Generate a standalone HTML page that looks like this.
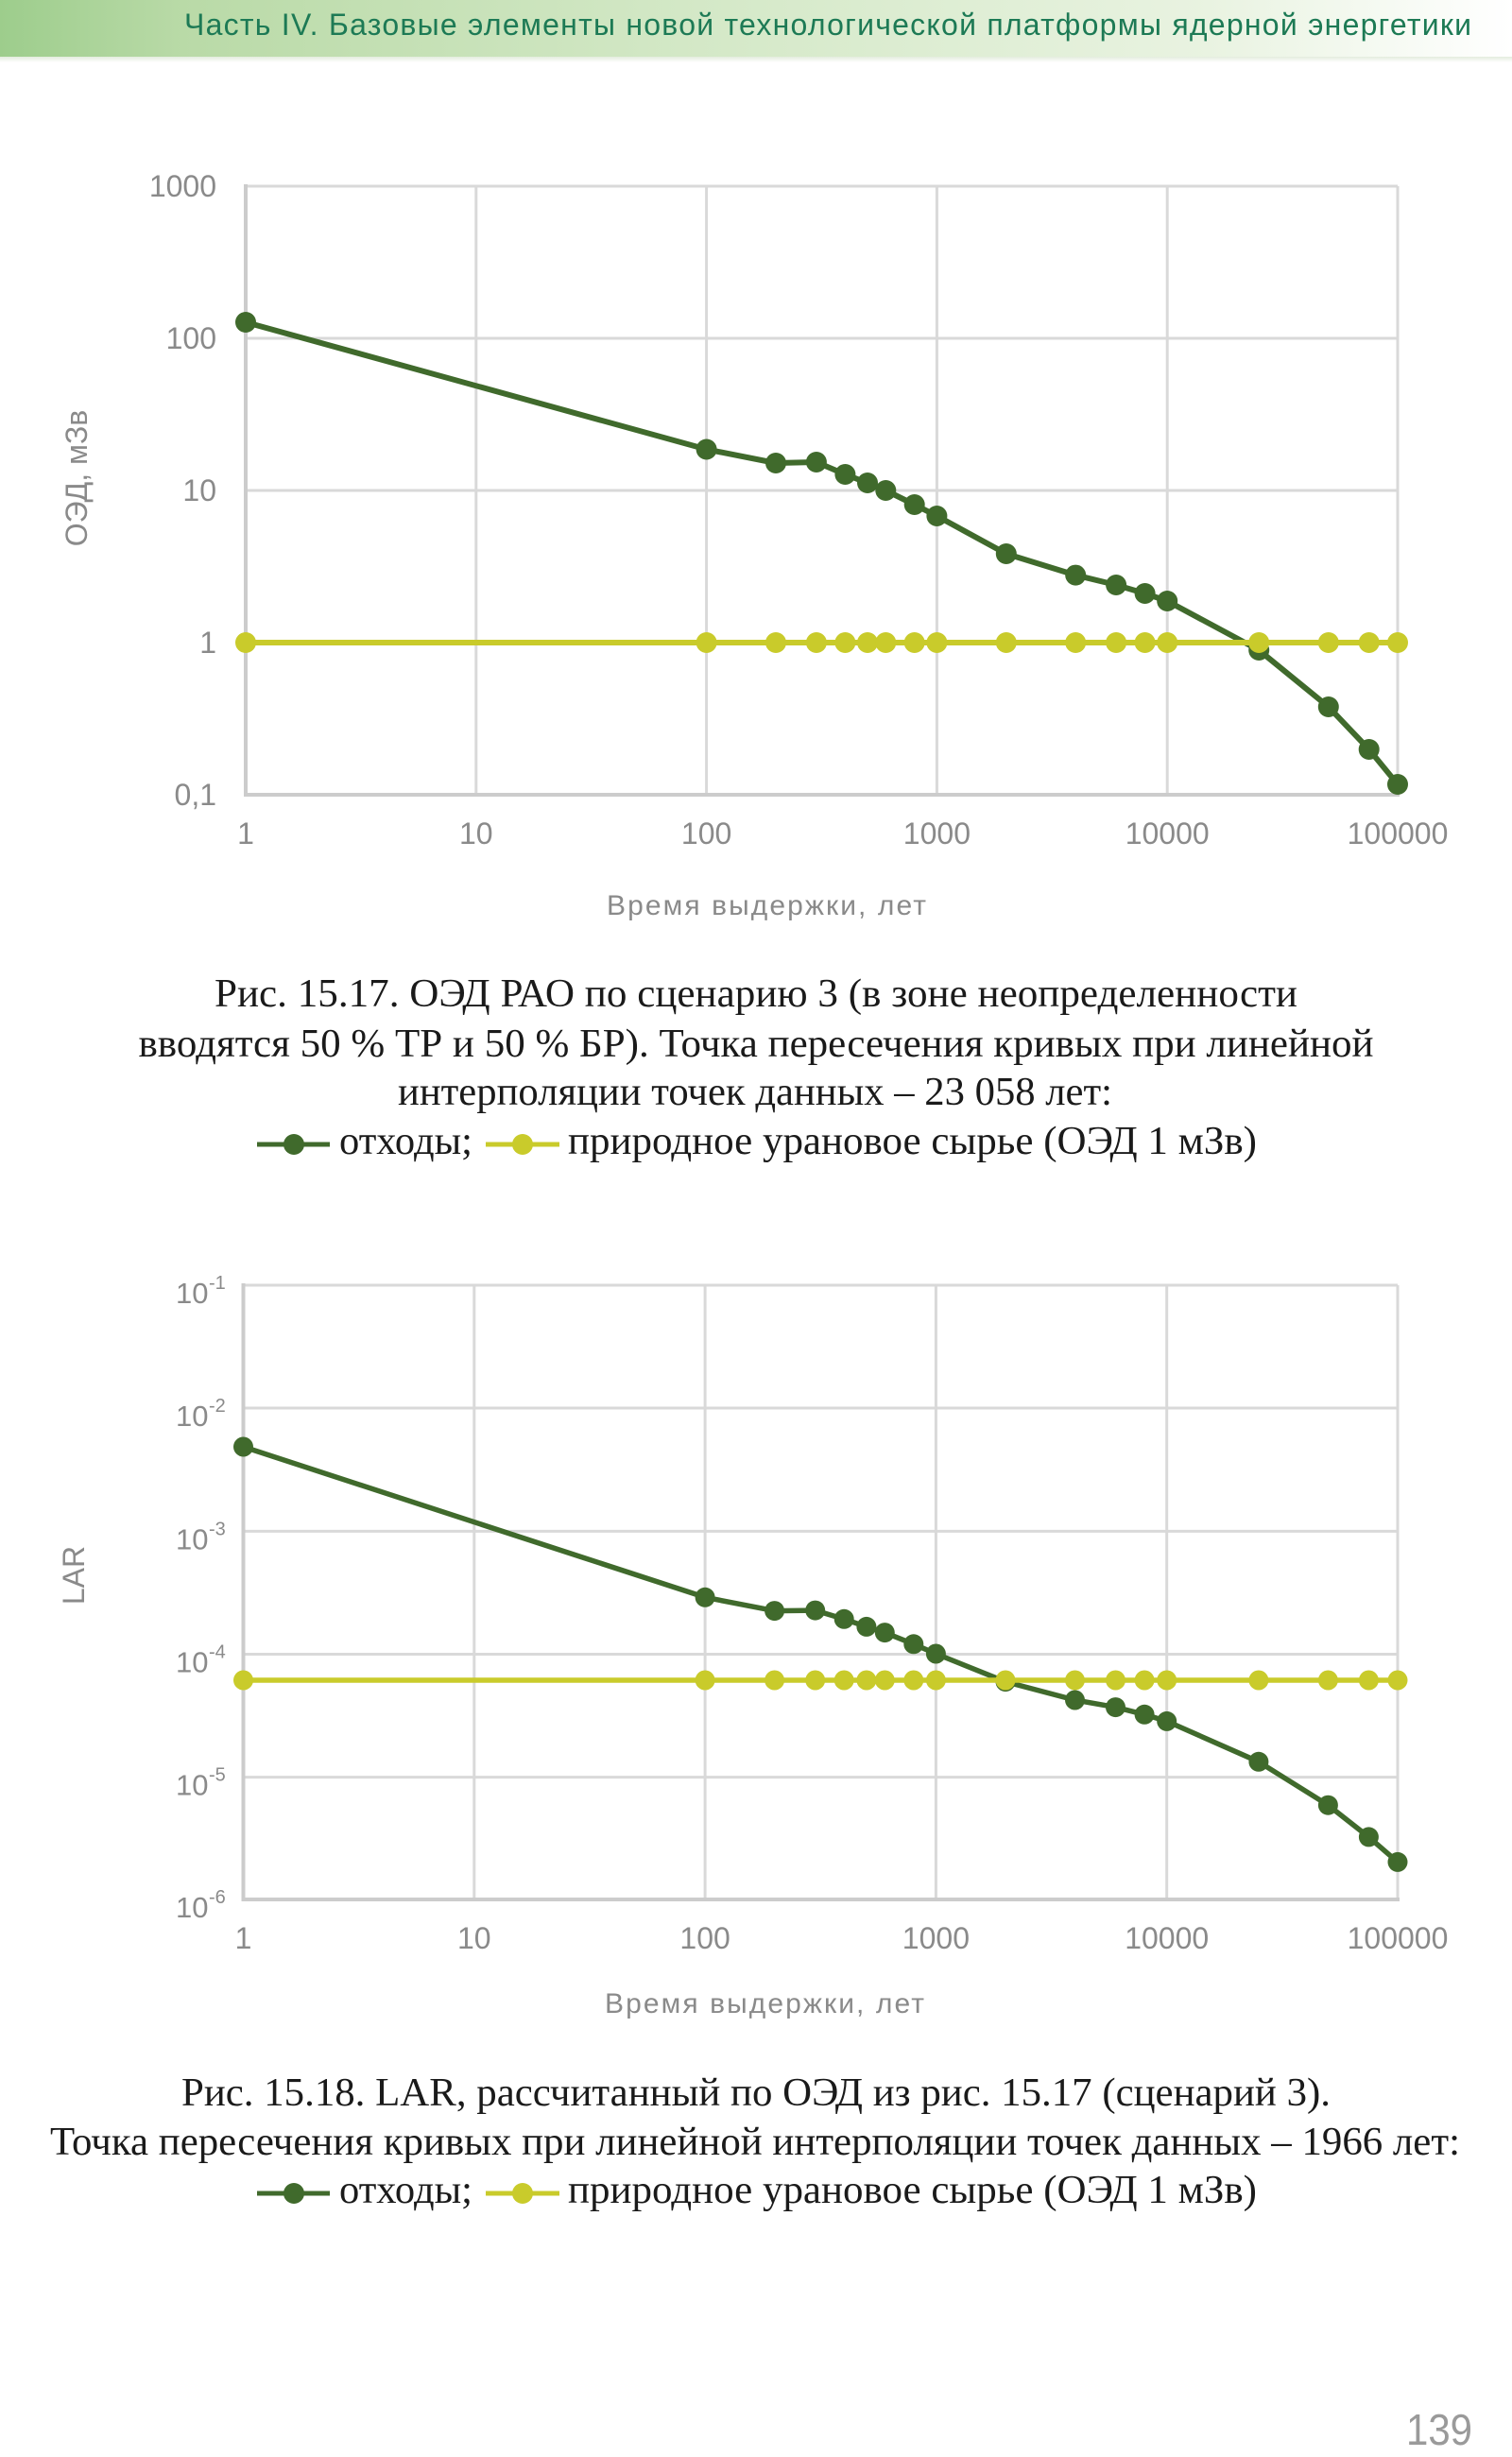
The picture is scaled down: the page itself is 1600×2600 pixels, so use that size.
<!DOCTYPE html>
<html>
<head>
<meta charset="utf-8">
<style>
  html,body{margin:0;padding:0;background:#fff;}
  svg{display:block;}
  .ax{font-family:"Liberation Sans",sans-serif;fill:#8a8a8a;}
  .cap{font-family:"Liberation Serif",serif;fill:#1a1a1a;font-size:42px;}
</style>
</head>
<body>
<svg width="1600" height="2600" viewBox="0 0 1600 2600" xmlns="http://www.w3.org/2000/svg">
  <defs>
    <linearGradient id="hdr" x1="0" y1="0" x2="1" y2="0">
      <stop offset="0" stop-color="#9dcd8c"/>
      <stop offset="0.12" stop-color="#b9daa7"/>
      <stop offset="0.45" stop-color="#d3e8c6"/>
      <stop offset="0.8" stop-color="#e9f3e1"/>
      <stop offset="1" stop-color="#ffffff"/>
    </linearGradient>
    <linearGradient id="shd" x1="0" y1="0" x2="0" y2="1">
      <stop offset="0" stop-color="#e3ecdd"/>
      <stop offset="1" stop-color="#ffffff"/>
    </linearGradient>
  </defs>

  <!-- Header -->
  <rect x="0" y="0" width="1600" height="60" fill="url(#hdr)"/>
  <rect x="0" y="60" width="1600" height="6" fill="url(#shd)"/>
  <text x="195" y="37" font-family="Liberation Sans, sans-serif" font-size="32" fill="#1d7a55" textLength="1362" lengthAdjust="spacing">Часть IV. Базовые элементы новой технологической платформы ядерной энергетики</text>

  <!-- ============ CHART 1 ============ -->
  <g stroke="#d9d9d9" stroke-width="3" fill="none">
    <line x1="260" y1="197" x2="1479" y2="197"/>
    <line x1="260" y1="358" x2="1479" y2="358"/>
    <line x1="260" y1="519" x2="1479" y2="519"/>
    <line x1="260" y1="680" x2="1479" y2="680"/>
    <line x1="503.8" y1="197" x2="503.8" y2="841"/>
    <line x1="747.6" y1="197" x2="747.6" y2="841"/>
    <line x1="991.4" y1="197" x2="991.4" y2="841"/>
    <line x1="1235.2" y1="197" x2="1235.2" y2="841"/>
    <line x1="1479" y1="197" x2="1479" y2="841"/>
  </g>
  <g stroke="#cccccc" stroke-width="4" fill="none">
    <line x1="260" y1="195" x2="260" y2="843"/>
    <line x1="258" y1="841" x2="1481" y2="841"/>
  </g>

  <!-- y labels chart1 -->
  <g class="ax" font-size="32" text-anchor="end">
    <text x="229" y="208">1000</text>
    <text x="229" y="369">100</text>
    <text x="229" y="530">10</text>
    <text x="229" y="691">1</text>
    <text x="229" y="852">0,1</text>
  </g>
  <!-- x labels chart1 -->
  <g class="ax" font-size="32" text-anchor="middle">
    <text x="260" y="893">1</text>
    <text x="503.8" y="893">10</text>
    <text x="747.6" y="893">100</text>
    <text x="991.4" y="893">1000</text>
    <text x="1235.2" y="893">10000</text>
    <text x="1479" y="893">100000</text>
  </g>
  <text class="ax" x="642" y="968" font-size="30" textLength="338" lengthAdjust="spacing">Время выдержки, лет</text>
  <text class="ax" x="0" y="0" font-size="32" text-anchor="middle" transform="translate(92,506) rotate(-90)">ОЭД, мЗв</text>

  <!-- series chart1 -->
  <polyline fill="none" stroke="#406a2c" stroke-width="6" stroke-linejoin="round"
    points="260,341 747.6,475.5 821,490 863.9,489 894.4,502 918,511 937.3,519 967.7,534 991.4,546 1064.8,586 1138.2,608.6 1181.1,619 1211.6,628 1235.2,636 1332.2,688 1405.8,748 1448.7,793 1479,830"/>
  <g fill="#406a2c">
    <circle cx="260" cy="341" r="11"/>
    <circle cx="747.6" cy="475.5" r="11"/>
    <circle cx="821" cy="490" r="11"/>
    <circle cx="863.9" cy="489" r="11"/>
    <circle cx="894.4" cy="502" r="11"/>
    <circle cx="918" cy="511" r="11"/>
    <circle cx="937.3" cy="519" r="11"/>
    <circle cx="967.7" cy="534" r="11"/>
    <circle cx="991.4" cy="546" r="11"/>
    <circle cx="1064.8" cy="586" r="11"/>
    <circle cx="1138.2" cy="608.6" r="11"/>
    <circle cx="1181.1" cy="619" r="11"/>
    <circle cx="1211.6" cy="628" r="11"/>
    <circle cx="1235.2" cy="636" r="11"/>
    <circle cx="1332.2" cy="688" r="11"/>
    <circle cx="1405.8" cy="748" r="11"/>
    <circle cx="1448.7" cy="793" r="11"/>
    <circle cx="1479" cy="830" r="11"/>
  </g>
  <line x1="260" y1="680" x2="1479" y2="680" stroke="#c9cb2b" stroke-width="6"/>
  <g fill="#c9cb2b">
    <circle cx="260" cy="680" r="11"/>
    <circle cx="747.6" cy="680" r="11"/>
    <circle cx="821" cy="680" r="11"/>
    <circle cx="863.9" cy="680" r="11"/>
    <circle cx="894.4" cy="680" r="11"/>
    <circle cx="918" cy="680" r="11"/>
    <circle cx="937.3" cy="680" r="11"/>
    <circle cx="967.7" cy="680" r="11"/>
    <circle cx="991.4" cy="680" r="11"/>
    <circle cx="1064.8" cy="680" r="11"/>
    <circle cx="1138.2" cy="680" r="11"/>
    <circle cx="1181.1" cy="680" r="11"/>
    <circle cx="1211.6" cy="680" r="11"/>
    <circle cx="1235.2" cy="680" r="11"/>
    <circle cx="1332.2" cy="680" r="11"/>
    <circle cx="1405.8" cy="680" r="11"/>
    <circle cx="1448.7" cy="680" r="11"/>
    <circle cx="1479" cy="680" r="11"/>
  </g>

  <!-- caption 1 -->
  <text class="cap" x="800" y="1065" text-anchor="middle" textLength="1146" lengthAdjust="spacingAndGlyphs">Рис. 15.17. ОЭД РАО по сценарию 3 (в зоне неопределенности</text>
  <text class="cap" x="800" y="1118" text-anchor="middle" textLength="1307" lengthAdjust="spacingAndGlyphs">вводятся 50 % ТР и 50 % БР). Точка пересечения кривых при линейной</text>
  <text class="cap" x="799" y="1169" text-anchor="middle" textLength="756" lengthAdjust="spacingAndGlyphs">интерполяции точек данных – 23 058 лет:</text>
  <g>
    <line x1="272" y1="1211" x2="349" y2="1211" stroke="#406a2c" stroke-width="5"/>
    <circle cx="311" cy="1211" r="11" fill="#406a2c"/>
    <text class="cap" x="359" y="1221" textLength="141" lengthAdjust="spacingAndGlyphs">отходы;</text>
    <line x1="514" y1="1211" x2="592" y2="1211" stroke="#c9cb2b" stroke-width="5"/>
    <circle cx="553" cy="1211" r="11" fill="#c9cb2b"/>
    <text class="cap" x="601" y="1221" textLength="729" lengthAdjust="spacingAndGlyphs">природное урановое сырье (ОЭД 1 мЗв)</text>
  </g>

  <!-- ============ CHART 2 ============ -->
  <g stroke="#d9d9d9" stroke-width="3" fill="none">
    <line x1="257.5" y1="1360" x2="1479" y2="1360"/>
    <line x1="257.5" y1="1490" x2="1479" y2="1490"/>
    <line x1="257.5" y1="1620.4" x2="1479" y2="1620.4"/>
    <line x1="257.5" y1="1750.5" x2="1479" y2="1750.5"/>
    <line x1="257.5" y1="1880.6" x2="1479" y2="1880.6"/>
    <line x1="501.8" y1="1360" x2="501.8" y2="2010"/>
    <line x1="746.1" y1="1360" x2="746.1" y2="2010"/>
    <line x1="990.4" y1="1360" x2="990.4" y2="2010"/>
    <line x1="1234.7" y1="1360" x2="1234.7" y2="2010"/>
    <line x1="1479" y1="1360" x2="1479" y2="2010"/>
  </g>
  <g stroke="#cccccc" stroke-width="4" fill="none">
    <line x1="257.5" y1="1358" x2="257.5" y2="2012"/>
    <line x1="255.5" y1="2010" x2="1481" y2="2010"/>
  </g>

  <!-- y labels chart2 -->
  <g class="ax" font-size="31">
    <text x="186" y="1379">10</text><text x="221" y="1364" font-size="20">-1</text>
    <text x="186" y="1509">10</text><text x="221" y="1494" font-size="20">-2</text>
    <text x="186" y="1639.4">10</text><text x="221" y="1624.4" font-size="20">-3</text>
    <text x="186" y="1769.5">10</text><text x="221" y="1754.5" font-size="20">-4</text>
    <text x="186" y="1899.6">10</text><text x="221" y="1884.6" font-size="20">-5</text>
    <text x="186" y="2029">10</text><text x="221" y="2014" font-size="20">-6</text>
  </g>
  <!-- x labels chart2 -->
  <g class="ax" font-size="32" text-anchor="middle">
    <text x="257.5" y="2062">1</text>
    <text x="501.8" y="2062">10</text>
    <text x="746.1" y="2062">100</text>
    <text x="990.4" y="2062">1000</text>
    <text x="1234.7" y="2062">10000</text>
    <text x="1479" y="2062">100000</text>
  </g>
  <text class="ax" x="640" y="2130" font-size="30" textLength="338" lengthAdjust="spacing">Время выдержки, лет</text>
  <text class="ax" x="0" y="0" font-size="32" text-anchor="middle" transform="translate(89,1667) rotate(-90)">LAR</text>

  <!-- series chart2 -->
  <polyline fill="none" stroke="#406a2c" stroke-width="5.5" stroke-linejoin="round"
    points="257.5,1531 746.1,1690.3 819.6,1704.6 862.7,1704.1 893.2,1713.3 916.9,1721.4 936.3,1727.6 966.8,1739.8 990.4,1750 1064,1779.6 1137.5,1799 1180.5,1806.6 1211.1,1814.3 1234.7,1821.4 1331.9,1864.3 1405.4,1910.2 1448.4,1943.9 1479,1970.4"/>
  <g fill="#406a2c">
    <circle cx="257.5" cy="1531" r="10.5"/>
    <circle cx="746.1" cy="1690.3" r="10.5"/>
    <circle cx="819.6" cy="1704.6" r="10.5"/>
    <circle cx="862.7" cy="1704.1" r="10.5"/>
    <circle cx="893.2" cy="1713.3" r="10.5"/>
    <circle cx="916.9" cy="1721.4" r="10.5"/>
    <circle cx="936.3" cy="1727.6" r="10.5"/>
    <circle cx="966.8" cy="1739.8" r="10.5"/>
    <circle cx="990.4" cy="1750" r="10.5"/>
    <circle cx="1064" cy="1779.6" r="10.5"/>
    <circle cx="1137.5" cy="1799" r="10.5"/>
    <circle cx="1180.5" cy="1806.6" r="10.5"/>
    <circle cx="1211.1" cy="1814.3" r="10.5"/>
    <circle cx="1234.7" cy="1821.4" r="10.5"/>
    <circle cx="1331.9" cy="1864.3" r="10.5"/>
    <circle cx="1405.4" cy="1910.2" r="10.5"/>
    <circle cx="1448.4" cy="1943.9" r="10.5"/>
    <circle cx="1479" cy="1970.4" r="10.5"/>
  </g>
  <line x1="257.5" y1="1778" x2="1479" y2="1778" stroke="#c9cb2b" stroke-width="5.5"/>
  <g fill="#c9cb2b">
    <circle cx="257.5" cy="1778" r="10.5"/>
    <circle cx="746.1" cy="1778" r="10.5"/>
    <circle cx="819.6" cy="1778" r="10.5"/>
    <circle cx="862.7" cy="1778" r="10.5"/>
    <circle cx="893.2" cy="1778" r="10.5"/>
    <circle cx="916.9" cy="1778" r="10.5"/>
    <circle cx="936.3" cy="1778" r="10.5"/>
    <circle cx="966.8" cy="1778" r="10.5"/>
    <circle cx="990.4" cy="1778" r="10.5"/>
    <circle cx="1064" cy="1778" r="10.5"/>
    <circle cx="1137.5" cy="1778" r="10.5"/>
    <circle cx="1180.5" cy="1778" r="10.5"/>
    <circle cx="1211.1" cy="1778" r="10.5"/>
    <circle cx="1234.7" cy="1778" r="10.5"/>
    <circle cx="1331.9" cy="1778" r="10.5"/>
    <circle cx="1405.4" cy="1778" r="10.5"/>
    <circle cx="1448.4" cy="1778" r="10.5"/>
    <circle cx="1479" cy="1778" r="10.5"/>
  </g>

  <!-- caption 2 -->
  <text class="cap" x="800" y="2228" text-anchor="middle" textLength="1216" lengthAdjust="spacingAndGlyphs">Рис. 15.18. LAR, рассчитанный по ОЭД из рис. 15.17 (сценарий 3).</text>
  <text class="cap" x="799" y="2280" text-anchor="middle" textLength="1492" lengthAdjust="spacingAndGlyphs">Точка пересечения кривых при линейной интерполяции точек данных – 1966 лет:</text>
  <g>
    <line x1="272" y1="2321" x2="349" y2="2321" stroke="#406a2c" stroke-width="5"/>
    <circle cx="311" cy="2321" r="11" fill="#406a2c"/>
    <text class="cap" x="359" y="2331" textLength="141" lengthAdjust="spacingAndGlyphs">отходы;</text>
    <line x1="514" y1="2321" x2="592" y2="2321" stroke="#c9cb2b" stroke-width="5"/>
    <circle cx="553" cy="2321" r="11" fill="#c9cb2b"/>
    <text class="cap" x="601" y="2331" textLength="729" lengthAdjust="spacingAndGlyphs">природное урановое сырье (ОЭД 1 мЗв)</text>
  </g>

  <!-- page number -->
  <text x="1488" y="2587" font-family="Liberation Sans, sans-serif" font-size="46" fill="#9a9a9a" textLength="70" lengthAdjust="spacingAndGlyphs">139</text>
</svg>
</body>
</html>
